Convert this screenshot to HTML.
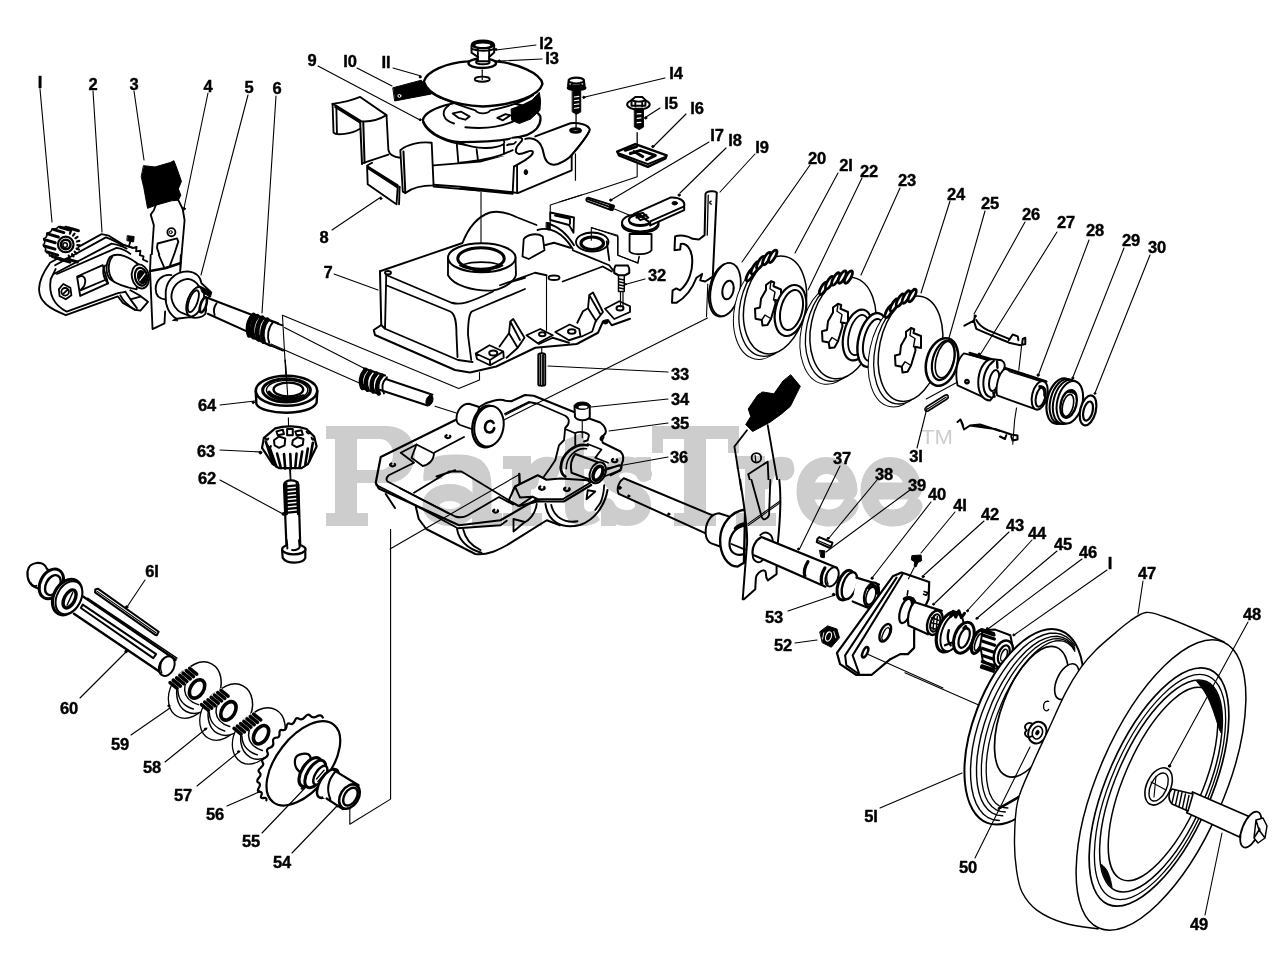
<!DOCTYPE html>
<html><head><meta charset="utf-8"><title>Parts diagram</title>
<style>
html,body{margin:0;padding:0;background:#fff;}
body{width:1280px;height:956px;overflow:hidden;font-family:"Liberation Sans",sans-serif;}
svg{display:block;}
.l{font-family:"Liberation Sans",sans-serif;font-weight:bold;font-size:16.5px;fill:#000;text-anchor:middle;stroke:#000;stroke-width:0.4px;}
.wm{font-family:"Liberation Serif",serif;font-weight:bold;fill:#cfcfcf;}
.ld{stroke:#000;stroke-width:1.1;fill:none;}
.k{fill:#000;stroke:#000;stroke-width:1;}
.w{fill:#fff;}
.t{stroke-width:1;}
.h{stroke-width:2;}
path,ellipse,circle,line,polygon,polyline,rect{vector-effect:non-scaling-stroke;}
</style></head><body>
<svg width="1280" height="956" viewBox="0 0 1280 956" fill="none" stroke="#000" stroke-width="1.85" stroke-linecap="round" stroke-linejoin="round">
<rect x="0" y="0" width="1280" height="956" fill="#fff" stroke="none"/>
<!-- top-left assembly: gear 1, bracket 2 (8x zoom coords of region 30,215) -->
<g id="p1p2" transform="translate(30,215) scale(0.12549)">
 <g>
  <!-- bracket 2 outer silhouette -->
  <path class="w" stroke="none" d="M160 380 L570 152 L628 165 L745 238 L880 310 L945 385 L945 690 L880 762 L835 755 L740 700 L700 648 L285 797 C150 745 72 690 72 590 C72 520 110 450 160 380Z"/>
  <path d="M820 262 L745 238 L628 165 L570 152 L160 380 C110 450 72 520 72 590 C72 690 150 745 285 797 L700 648 L740 700 L835 755 L880 762 L940 692 L872 640 L800 600"/>
  <path d="M200 400 L605 178 C650 195 700 220 745 245"/>
  <path d="M190 470 L650 228 C700 236 740 250 770 268"/>
  <path d="M165 512 L205 430 M165 512 C150 610 175 710 292 770 L700 622 L760 612"/>
  <path d="M215 470 L690 262 C730 268 770 285 800 310"/>
  <!-- slot -->
  <path d="M375 490 L580 400 L622 545 L400 645 Z"/>
  <path d="M402 600 L612 512 M385 495 C425 470 455 505 432 565 L402 600"/>
  <!-- tab lower right -->
  <path d="M760 612 L800 672 L880 650 M800 672 L852 742 M720 640 C740 680 780 720 835 755"/>
  <!-- boss cylinder -->
  <path class="w" d="M640 332 C700 295 790 330 865 395 L850 592 C780 580 700 560 640 512 C600 470 600 385 640 332Z"/>
  <path d="M655 335 C615 385 620 470 660 520 M600 402 C572 432 580 500 622 545"/>
  <ellipse class="w" cx="880" cy="490" rx="68" ry="97" transform="rotate(-12 880 490)"/>
  <ellipse cx="885" cy="492" rx="48" ry="72" transform="rotate(-12 885 492)" stroke-width="2.2"/>
  <ellipse cx="890" cy="495" rx="30" ry="50" transform="rotate(-12 890 495)" fill="#000"/>
  <path d="M875 520 L915 470" stroke="#fff" stroke-width="1.2"/>
  <!-- hex bolt -->
  <path d="M265 550 L322 580 L330 640 L285 672 L235 645 L230 590 Z" stroke-width="1.8"/>
  <circle cx="280" cy="612" r="30"/>
  <path d="M262 630 L300 595"/>
  <!-- pin and teeth on right -->
  <path class="k" d="M778 165 L830 172 L825 215 L775 205Z"/>
  <path d="M800 210 L790 245 M745 238 L820 262 L850 255 L845 290 L880 285 L875 320 L905 330 L900 355 L935 372" stroke-width="1.8"/>
  <!-- gear 1 -->
  <path class="w" d="M230 82 C300 70 370 120 385 210 C390 270 350 320 290 335 L190 345 C130 320 95 270 98 215 C100 150 160 95 230 82Z" stroke="none"/>
 </g>
</g>

<g id="gear1" transform="translate(30,215) scale(0.12549)">
<path d="M301 101L386 126" stroke-width="3"/>
<path d="M241 98L326 123" stroke-width="3"/>
<path d="M185 115L270 140" stroke-width="3"/>
<path d="M141 150L226 175" stroke-width="3"/>
<path d="M116 196L201 221" stroke-width="3"/>
<path d="M114 247L199 272" stroke-width="3"/>
<path d="M136 295L221 320" stroke-width="3"/>
<path d="M178 331L263 356" stroke-width="3"/>
<path d="M233 351L318 376" stroke-width="3"/>
<path d="M293 350L378 375" stroke-width="3"/>
<path d="M341 107Q307 117 287 91Q259 110 229 92Q211 119 176 111Q170 142 134 145Q141 175 109 190Q129 216 105 239Q134 258 121 287Q156 295 156 326Q192 323 205 352Q238 338 262 361Q286 338 319 352" stroke-width="1.6"/>
<path d="M309 324L314 343" stroke-width="2.2"/>
<path d="M335 312L346 329" stroke-width="2.2"/>
<path d="M356 293L372 305" stroke-width="2.2"/>
<path d="M371 268L390 275" stroke-width="2.2"/>
<path d="M377 240L397 241" stroke-width="2.2"/>
<path d="M374 211L393 206" stroke-width="2.2"/>
<path d="M362 185L379 174" stroke-width="2.2"/>
<path d="M343 164L355 148" stroke-width="2.2"/>
<path d="M318 149L325 130" stroke-width="2.2"/>
<circle cx="285" cy="235" r="62" class="w" stroke-width="2.2"/>
<circle cx="285" cy="235" r="38" stroke-width="2.6"/>
<circle cx="280" cy="240" r="18" stroke-width="1.5"/>
</g>
<!-- black block 3 + plate 4 upper (8x zoom of region 130,150) -->
<g id="p3p4" transform="translate(130,150) scale(0.12549)">
 <path class="w" d="M205 440 L190 480 L165 515 L190 600 L165 956 L400 956 L435 560 L420 470 L385 400Z" stroke="none"/>
 <path d="M205 440 L190 480 L165 515 L190 600 L165 956 M385 400 L420 470 L435 560 L400 956"/>
 <path class="k" d="M110 125 L200 135 L320 100 L350 85 L375 150 L410 250 L385 310 L405 360 L385 400 L330 405 L205 440 L140 465 L110 300 L90 215Z"/>
 <circle cx="330" cy="655" r="32"/><circle cx="325" cy="655" r="12" stroke-width="1"/>
 <path d="M220 745 L375 705 L385 730 L320 930 L270 940 L215 780Z"/>
 <circle cx="432" cy="468" r="9" class="k"/>
</g>
<!-- plate 4 lower, hub 5, shaft 6 (8x zoom of region 140,255) -->
<g id="p5p6" transform="translate(140,255) scale(0.12549)">
 <path class="w" stroke="none" d="M85 0 L80 125 L100 590 L195 545 L205 330 L320 130 L325 0Z"/>
 <path d="M85 0 L80 125 L100 590 L195 545 L200 450 M325 0 L320 130"/>
 <path d="M80 128 L200 105 L320 65" stroke-width="2.6"/>
 <path d="M150 0 L195 105 L235 95 L270 0"/>
 <!-- hub -->
 <path class="w" d="M250 160 C180 150 125 200 125 270 C125 320 150 350 205 355"/>
 <path class="w" d="M205 330 C195 220 270 130 380 130 C440 135 480 170 490 225 L560 290 L520 470 C500 495 450 510 400 495 L290 508 C230 470 200 400 205 330Z"/>
 <path d="M250 340 C250 260 300 200 380 190 C420 195 450 215 470 250 M250 340 C260 400 290 440 330 460 L385 482"/>
 <path d="M385 482 C355 420 380 300 470 250"/>
 <ellipse cx="440" cy="372" rx="62" ry="122" transform="rotate(20 440 372)" class="w"/>
 <ellipse cx="425" cy="368" rx="34" ry="92" transform="rotate(20 425 368)"/>
 <path class="k" d="M478 248 L572 295 L562 335 L498 300Z"/>
 <path class="k" d="M262 520 L292 505 L300 522Z"/>
 <!-- shaft -->
 <path class="w" d="M520 335 L900 480 L860 612 L540 468Z" stroke="none"/>
 <path d="M520 335 L900 480 M540 468 L860 612" stroke-width="2"/>
 <ellipse class="w" cx="505" cy="398" rx="22" ry="62" transform="rotate(18 505 398)" stroke-width="2.6"/>
 <path d="M610 385 C590 410 585 445 595 478"/>
 <!-- worm -->
 <path class="w" d="M900 470 L1100 545 L1040 722 L860 640Z" stroke="none"/>
 <g stroke-width="4.6">
  <path d="M905 478 C860 520 850 590 870 640"/>
  <path d="M935 488 C890 535 885 610 905 655"/>
  <path d="M975 500 C930 550 925 625 945 672"/>
  <path d="M1015 515 C975 560 965 640 985 690"/>
 </g>
 <path d="M900 472 L1100 545 M865 640 L1040 722" stroke-width="2.4"/>
 <path d="M1060 535 C1020 580 1010 650 1030 700"/>
 <path d="M1100 548 L1135 560 M1045 722 L1140 762"/>
 <!-- leader box -->
 <path class="ld" d="M1135 480 L1172 1130"/>
</g>

<!-- bracket 8 left/back (8x zoom of region 320,85) -->
<g id="p8a" transform="translate(320,85) scale(0.12549)">
 <path class="w" stroke="none" d="M100 150 L320 95 L530 240 L545 520 L640 580 L640 520 L890 460 L905 640 L1275 610 L1275 840 L905 810 L680 860 L630 950 L600 945 L380 790 L375 645 L335 630 L320 290 L315 350 L108 380Z"/>
 <path d="M100 150 C180 140 260 120 320 95 L530 240 L545 520 C555 565 600 575 640 580"/>
 <path d="M100 150 L108 380 C130 405 250 390 315 350 M130 165 L135 385"/>
 <path d="M100 150 L130 165 L330 290 C400 295 480 270 530 240 M120 175 L320 300" />
 <path d="M320 290 L335 630 M345 300 L355 620" stroke-width="2"/>
 <path d="M335 625 L545 555 M380 640 L415 620"/>
 <path d="M375 645 L620 800 M385 665 L615 815 M375 645 L380 790 L600 945 M620 800 L610 950 M635 810 L630 950"/>
 <path d="M905 640 L1275 610 L1534 540"/>
</g>

<!-- pulleys 9-13 (8x zoom of region 390,30) -->
<g id="pulley" transform="translate(390,30) scale(0.12549)">
 <!-- lower hub -->
 <path class="w" stroke="none" d="M530 880 L545 1062 L930 1000 L908 880Z"/>
 <path d="M530 880 L545 1060 M908 880 L928 1000 M558 900 C700 960 850 945 908 908 M690 950 L700 1030" />
 <!-- lower disc -->
 <path class="w" d="M480 590 C350 620 265 670 262 720 C290 800 400 880 558 893 C758 893 958 878 1088 838 C1158 808 1208 758 1198 688 C1150 600 900 560 740 560 C640 560 550 570 480 590Z" stroke-width="2.2"/>
 <path d="M470 600 C400 650 420 720 510 745 M600 775 C750 790 900 770 1000 720"/>
 <path d="M500 665 L565 650 L635 690 L600 715 L545 700Z M855 700 L920 670 L960 680 L900 720Z"/>
 <path d="M262 735 C300 830 450 900 600 915" />
 <!-- belt right -->
 <path class="k" d="M1190 500 L1200 560 L1195 640 L1120 710 L1030 745 L970 720 L965 630 L1050 600 L1130 560Z"/>
 <!-- upper disc underside cone -->
 <path class="w" d="M330 500 C420 560 560 600 680 640 C700 672 780 672 800 640 C900 620 1050 580 1140 520Z" />
 <path d="M540 575 C650 600 850 600 960 570"/>
 <!-- upper disc -->
 <path class="w" d="M270 410 C290 330 450 260 620 250 C700 240 800 240 860 252 C1000 265 1200 340 1215 430 C1190 520 1000 595 740 610 C500 600 300 520 270 410Z" stroke-width="2.4"/>
 <!-- belt left -->
 <path class="k" d="M25 460 L250 400 L280 440 L330 510 L40 565Z"/>
 <circle cx="75" cy="525" r="12" stroke="#fff" stroke-width="1"/>
 <!-- small hole + axis -->
 <ellipse cx="735" cy="392" rx="60" ry="20"/>
 <path d="M735 320 L735 395" stroke-width="1.2"/>
 <!-- washer 13 -->
 <ellipse class="w" cx="735" cy="265" rx="110" ry="38" stroke-width="2.4"/>
 <ellipse cx="740" cy="255" rx="55" ry="18" />
 <!-- bolt 12 -->
 <path class="w" d="M650 120 L650 180 L700 215 L700 250 L790 250 L790 215 L830 180 L830 120Z" stroke-width="2"/>
 <ellipse cx="740" cy="115" rx="88" ry="32" fill="#000"/>
 <ellipse cx="740" cy="122" rx="60" ry="14" fill="#fff" stroke="none"/>
 <path d="M700 150 L700 215 M790 150 L790 215 M650 150 C700 170 790 170 830 150"/>
 <circle cx="240" cy="375" r="8" class="k"/><circle cx="240" cy="715" r="8" class="k"/>
 <circle cx="845" cy="155" r="8" class="k"/><circle cx="870" cy="245" r="7" class="k"/>
</g>

<!-- bracket 8 centre tab (coords of region 320,85) -->
<g id="p8b" transform="translate(320,85) scale(0.12549)">
 <path class="w" d="M640 520 C700 470 800 450 890 460 L905 800 C800 800 720 830 680 860 L660 850Z"/>
 <path d="M665 530 L680 860" stroke-width="2"/>
 <path d="M905 795 L1275 822 M905 810 L1275 842"/>
 <circle cx="485" cy="905" r="8" class="k"/>
</g>
<!-- bracket 8 right (8x zoom of region 460,100) -->
<g id="p8c" transform="translate(460,100) scale(0.12549)">
 <path class="w" stroke="none" d="M420 300 L600 290 L880 185 C950 180 1020 195 1035 235 C1020 290 960 350 890 450 L890 560 L460 742 L0 705 L0 640 L350 600 L350 350Z"/>
 <path d="M600 290 L880 185 C950 180 1020 195 1035 235 C1020 290 960 350 880 450" stroke-width="2"/>
 <path d="M1030 250 C1000 310 950 370 890 440" />
 <ellipse cx="920" cy="240" rx="40" ry="14" stroke-width="2.4"/>
 <path d="M420 300 C480 290 520 300 480 340 C440 380 430 420 470 430 C520 430 560 390 580 410 C590 440 540 460 520 480 L430 530" stroke-width="2"/>
 <path d="M375 360 C400 340 420 370 445 335 M350 350 L350 430 M0 500 C100 490 250 470 350 430 L420 400"/>
 <path d="M520 310 C600 290 650 340 665 420 C680 500 720 530 780 510 C830 490 870 460 890 440" stroke-width="2"/>
 <path d="M430 530 L420 735 L460 742 L890 560 L890 450 M455 520 L455 740"/>
 <ellipse cx="525" cy="575" rx="14" ry="20" class="k"/>
 <path d="M0 690 L420 735 M0 705 L420 747"/>
 <path d="M920 430 L920 640" stroke-width="1.2"/>
 <!-- bolt 14 lower -->
</g>

<!-- housing 7 (4x coords of region 300,200) -->
<g id="p7" transform="translate(300,200) scale(0.25)">
 <!-- silhouette fill -->
 <path class="w" stroke="none" d="M320 285 L650 172 C670 120 700 70 760 50 C800 40 840 55 870 70 L946 100 L1001 50 L1096 70 L1096 130 L1227 166 L1320 290 L1320 475 L1247 501 L1232 480 L1212 486 L1192 531 L1107 576 L941 591 L785 666 L680 690 L620 680 L300 540 L295 520 L325 500Z"/>
 <!-- left corner + flange -->
 <path d="M320 285 L325 500 L295 520 L300 540 L620 680 L680 690 L785 666 L941 591 L1107 576 L1192 531 L1212 486 L1232 480 L1247 501 L1320 475" stroke-width="2"/>
 <path d="M345 300 L340 515 M325 500 L340 515 L632 640 L690 648" />
 <ellipse cx="352" cy="291" rx="12" ry="7"/>
 <!-- top edges -->
 <path d="M320 285 L650 172 C670 120 700 70 760 50 C800 40 840 55 870 70 L946 100"/>
 <path d="M345 300 L606 411 C641 421 677 411 772 366"/>
 <path d="M345 341 L601 446 C621 456 626 487 626 540 L630 628"/>
 <path d="M900 356 L687 446 C672 461 672 512 672 540 L685 640"/>
 <path d="M900 311 L817 336"/>
 <!-- bearing boss -->
 <path class="ld" d="M724 -30 L724 270"/>
 <path class="w" d="M592 231 L592 301 C612 340 690 366 772 362 C830 350 858 320 864 300 L862 231Z"/>
 <ellipse class="w" cx="727" cy="231" rx="135" ry="58" stroke-width="2"/>
 <ellipse cx="724" cy="234" rx="93" ry="43" stroke-width="3"/>
 <path d="M655 258 C690 245 760 245 795 258 M640 262 C680 285 770 285 810 262" />
 <path d="M695 280 C715 286 740 286 760 280" stroke-width="2.6"/>
 <!-- right-side small boss -->
 <path class="w" d="M890 226 L895 156 C910 136 950 131 971 146 L978 201 L915 236Z"/>
 <path d="M978 181 L1016 171 L1081 191"/>
 <path d="M950 120 C1000 105 1051 130 1091 196 M991 95 C1036 105 1071 141 1096 181"/>
 <path d="M1001 50 L1096 70 L1094 131 L1076 100 L1001 80Z M1020 62 L1080 75 L1080 95"/>
 <path class="k" d="M986 90 L1001 92 L1001 120 L986 118Z"/>
 <path class="ld" d="M1001 20 L1001 95 M1001 20 L1126 -20"/>
 <!-- ring boss -->
 <path class="w" d="M1104 168 L1110 215 L1237 261 L1237 241 L1232 166Z" stroke="none"/>
 <ellipse class="w" cx="1169" cy="168" rx="65" ry="38"/>
 <ellipse cx="1169" cy="173" rx="45" ry="25" stroke-width="3.2"/>
 <path d="M1227 166 L1237 241 M1091 201 L1237 261 L1252 281"/>
 <path class="ld" d="M1166 110 L1272 146 L1272 221 L1352 253 L1357 226"/>
 <!-- front surface -->
 <path d="M800 341 L940 291 L986 301 M1051 326 L1211 266 L1247 286"/>
 <ellipse cx="1016" cy="311" rx="22" ry="9"/>
 <path class="ld" d="M986 301 L986 521"/>
 <!-- tabs and ribs -->
 <path class="w" d="M703 614 L758 581 L813 606 L815 631 L760 661 L708 636Z M703 614 L760 640 L813 606 M760 640 L760 661"/>
 <ellipse cx="773" cy="612" rx="16" ry="10" stroke-width="2"/>
 <path d="M798 586 L836 533 L841 486 L853 476 L898 551 L871 591 L826 631 M841 486 L880 560 M836 533 L870 590"/>
 <path class="w" d="M906 541 L961 516 L1011 541 L951 573Z"/>
 <ellipse cx="969" cy="537" rx="13" ry="8" stroke-width="2"/>
 <path d="M956 576 L1011 551 L1076 571"/>
 <path class="w" d="M1021 528 L1079 498 L1117 516 L1122 546 L1076 561Z"/>
 <ellipse cx="1087" cy="526" rx="15" ry="9" stroke-width="2"/>
 <path d="M1109 491 L1132 445 L1152 433 L1157 380 L1172 370 L1212 448 L1182 486 L1169 526 L1127 546 M1157 380 L1200 455 M1152 433 L1185 485"/>
 <path class="w" d="M1220 435 L1277 405 L1320 425 L1320 448 L1257 476Z"/>
 <ellipse cx="1280" cy="433" rx="14" ry="9" stroke-width="2"/>
 <ellipse cx="1222" cy="488" rx="10" ry="8" class="k"/>
 <!-- pin 33 -->
 <path class="w" d="M953 620 C953 610 981 610 981 620 L981 738 C981 745 953 745 953 738Z M962 615 L962 740 M972 615 L972 740"/>
 <path class="ld" d="M967 590 L967 612"/>
 <!-- bolt 32 -->
 <path class="w" d="M1257 275 L1262 262 L1312 262 L1317 275 L1317 292 L1300 301 L1274 301 L1257 292Z" stroke-width="2"/>
 <path d="M1274 301 L1274 366 L1297 366 L1297 301 M1274 315 L1297 320 M1274 327 L1297 332 M1274 339 L1297 344 M1274 351 L1297 356" stroke-width="1.5"/>
 <path d="M1282 366 L1282 427 M1292 366 L1292 427" stroke-width="1.2"/>
 <circle cx="1303" cy="337" r="3" class="k"/>
</g>

<!-- bolts 14,15 plate 16 (8x coords of region 560,70) -->
<g id="p14_16" transform="translate(560,70) scale(0.12549)">
 <!-- bolt 14 -->
 <path class="w" d="M70 80 C90 55 170 55 190 80 L195 125 L65 125Z" stroke-width="2.2"/>
 <path d="M95 100 L95 125 M165 100 L165 125 M72 95 C100 110 160 110 188 95"/>
 <ellipse cx="132" cy="142" rx="72" ry="18" fill="#000"/>
 <path class="k" d="M100 160 L165 160 L165 335 L132 352 L100 335Z"/>
 <path d="M115 215 L150 210 M115 245 L150 240 M115 275 L150 270 M115 305 L150 300" stroke="#fff" stroke-width="1.2"/>
 <path d="M128 352 L128 470" stroke-width="1.3"/>
 <ellipse cx="125" cy="485" rx="40" ry="14" stroke-width="2.4"/>
 <circle cx="190" cy="218" r="9" class="k"/>
 <!-- bolt 15 -->
 <ellipse class="w" cx="625" cy="275" rx="90" ry="40" stroke-width="2"/>
 <path class="w" d="M570 240 L600 215 L655 215 L682 240 L680 285 L570 285Z" stroke-width="2"/>
 <path d="M600 250 L600 290 M655 250 L655 290 M572 242 C600 255 655 255 680 242"/>
 <path class="k" d="M595 305 L665 305 L665 455 L630 475 L595 455Z"/>
 <path d="M615 350 L645 347 M615 385 L645 382 M615 420 L645 417" stroke="#fff" stroke-width="1.2"/>
 <path d="M615 500 L615 620" stroke-width="1.3"/>
 <circle cx="683" cy="382" r="9" class="k"/>
 <!-- plate 16 -->
 <path class="w" d="M455 650 L600 590 L850 680 L840 705 L700 772 L470 680Z" stroke-width="2.4"/>
 <path d="M470 665 L700 750 L845 690" stroke-width="2"/>
 <path d="M520 640 L610 610 M560 665 L640 640 L760 680 L690 715 M590 650 L660 690" stroke-width="3"/>
 <circle cx="740" cy="610" r="9" class="k"/>
 <path class="ld" d="M615 745 L615 850 L300 956 L0 1050"/>
</g>

<!-- pin 17, lever 18, bracket 19 (8x coords of region 580,180) -->
<g id="p17_19" transform="translate(580,180) scale(0.12549)">
 <!-- pin 17 -->
 <path class="w" d="M65 140 L270 205 L250 240 L55 168 C45 160 50 140 65 140Z"/>
 <path d="M62 152 L260 222" />
 <path class="k" d="M240 200 L275 208 L262 245 L232 235Z"/>
 <path class="ld" d="M275 232 L420 290"/>
 <circle cx="245" cy="160" r="9" class="k"/>
 <!-- dashed box -->
 <path class="ld" d="M90 480 L90 380 L300 440 L300 600 L460 660 L470 610"/>
 <!-- hub of lever -->
 <path class="w" d="M395 430 L395 570 C420 600 540 600 570 560 L570 430Z"/>
 <path class="w" d="M335 340 L335 365 C360 440 600 440 625 365 L625 340Z" stroke-width="2"/>
 <ellipse class="w" cx="480" cy="340" rx="145" ry="70" stroke-width="2"/>
 <ellipse cx="480" cy="318" rx="90" ry="42" stroke-width="2.2"/>
 <path d="M400 345 C440 375 520 375 560 345" stroke-width="2"/>
 <!-- arm -->
 <path class="w" d="M430 270 L720 140 C800 135 840 170 830 210 L830 240 L560 362 L545 330 L500 300Z" stroke-width="2"/>
 <path d="M830 210 L560 330 L560 362"/>
 <path d="M440 275 L500 262 L545 300 L480 320Z M470 270 L520 310 M450 300 L530 280" stroke-width="2"/>
 <ellipse cx="755" cy="185" rx="22" ry="14" class="k"/>
 <circle cx="790" cy="120" r="9" class="k"/>
 <!-- bracket 19 -->
 <path class="w" d="M1000 110 C1010 85 1080 85 1090 100 L1058 770 L998 809 L958 799 L973 749 L928 779 C898 859 838 939 768 979 L733 979 L738 879 L768 864 L798 879 C868 819 903 719 893 619 C888 549 848 499 803 509 L798 554 L753 559 L758 449 C798 434 858 444 898 469 L948 474 L993 439Z" stroke-width="2"/>
 <path d="M1022 120 L1014 440" stroke-width="1.3"/>
 <path d="M1045 168 C1030 170 1030 192 1048 192" stroke-width="1.4"/>
 <path class="ld" d="M1018 830 L1008 1090"/>
</g>

<!-- washer 20, discs 21,23,24, rings (4x coords of region 700,230) -->
<g id="discs" transform="translate(700,230) scale(0.25)">
<ellipse cx="96" cy="240" rx="58" ry="108" transform="rotate(12 96 240)" class="w" stroke-width="1.8"/>
<ellipse cx="102" cy="238" rx="58" ry="108" transform="rotate(12 102 238)" class="w" stroke-width="1.8"/>
<ellipse cx="112" cy="240" rx="22" ry="38" transform="rotate(12 112 240)" stroke-width="2"/>
<ellipse cx="260" cy="322" rx="122" ry="198" transform="rotate(12 260 322)" class="w" stroke-width="1.0"/>
<ellipse cx="282" cy="310" rx="122" ry="198" transform="rotate(12 282 310)" class="w" stroke-width="1.3"/>
<ellipse cx="300" cy="300" rx="122" ry="198" transform="rotate(12 300 300)" class="w" stroke-width="1.5"/>
<ellipse cx="201" cy="179" rx="10" ry="28" transform="rotate(30 201 179)" class="w" stroke-width="2.7"/>
<ellipse cx="221" cy="152" rx="10" ry="28" transform="rotate(30 221 152)" class="w" stroke-width="2.7"/>
<ellipse cx="243" cy="130" rx="10" ry="28" transform="rotate(30 243 130)" class="w" stroke-width="2.7"/>
<ellipse cx="267" cy="114" rx="10" ry="28" transform="rotate(30 267 114)" class="w" stroke-width="2.7"/>
<ellipse cx="291" cy="105" rx="10" ry="28" transform="rotate(30 291 105)" class="w" stroke-width="2.7"/>
<path d="M264 220 L284 205 L297 210 L294 225 L324 238 L324 285 L300 280 L302 295 L284 355 L270 380 L250 382 L247 360 L222 355 L220 315 L240 310 L244 275 L264 240Z" stroke-width="2"/><path d="M284 205 L280 235 L300 248 L294 280 M247 360 L260 340 L284 355" stroke-width="1.4"/>
<ellipse cx="362" cy="322" rx="60" ry="104" transform="rotate(14 362 322)" class="w" stroke-width="2.2"/>
<ellipse cx="366" cy="320" rx="43" ry="82" transform="rotate(14 366 320)" stroke-width="2"/>
<ellipse cx="532" cy="414" rx="128" ry="206" transform="rotate(12 532 414)" class="w" stroke-width="1.0"/>
<ellipse cx="554" cy="402" rx="128" ry="206" transform="rotate(12 554 402)" class="w" stroke-width="1.3"/>
<ellipse cx="572" cy="392" rx="128" ry="206" transform="rotate(12 572 392)" class="w" stroke-width="1.5"/>
<ellipse cx="494" cy="233" rx="10" ry="28" transform="rotate(30 494 233)" class="w" stroke-width="2.7"/>
<ellipse cx="518" cy="211" rx="10" ry="28" transform="rotate(30 518 211)" class="w" stroke-width="2.7"/>
<ellipse cx="543" cy="196" rx="10" ry="28" transform="rotate(30 543 196)" class="w" stroke-width="2.7"/>
<ellipse cx="569" cy="188" rx="10" ry="28" transform="rotate(30 569 188)" class="w" stroke-width="2.7"/>
<ellipse cx="594" cy="188" rx="10" ry="28" transform="rotate(30 594 188)" class="w" stroke-width="2.7"/>
<path d="M532 310 L552 295 L565 300 L562 315 L592 328 L592 375 L568 370 L570 385 L552 445 L538 470 L518 472 L515 450 L490 445 L488 405 L508 400 L512 365 L532 330Z" stroke-width="2"/><path d="M552 295 L548 325 L568 338 L562 370 M515 450 L528 430 L552 445" stroke-width="1.4"/>
<ellipse cx="630" cy="420" rx="55" ry="104" transform="rotate(14 630 420)" class="w" stroke-width="2.2"/>
<ellipse cx="634" cy="420" rx="38" ry="82" transform="rotate(14 634 420)" stroke-width="1.8"/>
<ellipse cx="690" cy="440" rx="56" ry="110" transform="rotate(14 690 440)" class="w" stroke-width="2.4"/>
<ellipse cx="694" cy="440" rx="38" ry="86" transform="rotate(14 694 440)" stroke-width="2"/>
<ellipse cx="802" cy="497" rx="124" ry="214" transform="rotate(12 802 497)" class="w" stroke-width="1.0"/>
<ellipse cx="824" cy="485" rx="124" ry="214" transform="rotate(12 824 485)" class="w" stroke-width="1.3"/>
<ellipse cx="842" cy="475" rx="124" ry="214" transform="rotate(12 842 475)" class="w" stroke-width="1.5"/>
<ellipse cx="756" cy="326" rx="10" ry="28" transform="rotate(30 756 326)" class="w" stroke-width="2.7"/>
<ellipse cx="777" cy="301" rx="10" ry="28" transform="rotate(30 777 301)" class="w" stroke-width="2.7"/>
<ellipse cx="801" cy="281" rx="10" ry="28" transform="rotate(30 801 281)" class="w" stroke-width="2.7"/>
<ellipse cx="825" cy="268" rx="10" ry="28" transform="rotate(30 825 268)" class="w" stroke-width="2.7"/>
<ellipse cx="849" cy="262" rx="10" ry="28" transform="rotate(30 849 262)" class="w" stroke-width="2.7"/>
<path d="M824 407 L844 392 L857 397 L854 412 L884 424 L884 472 L860 467 L862 482 L844 542 L830 567 L810 570 L807 547 L782 542 L780 502 L800 497 L804 462 L824 427Z" stroke-width="2"/><path d="M844 392 L840 422 L860 434 L854 467 M807 547 L820 527 L844 542" stroke-width="1.4"/>
<ellipse cx="968" cy="528" rx="62" ry="97" transform="rotate(15 968 528)" class="w" stroke-width="2.6"/>
<ellipse cx="973" cy="522" rx="42" ry="80" transform="rotate(15 973 522)" stroke-width="2.2"/>
<ellipse cx="980" cy="518" rx="35" ry="75" transform="rotate(15 980 518)" stroke-width="1.6"/>
</g>
<!-- sleeve 27, tube 28, pulley 29, washer 30, clip 26 (8x coords of region 950,300) -->
<g id="p26_30" transform="translate(950,300) scale(0.12549)">
 <!-- sleeve 27 body -->
 <path class="w" d="M110 425 C60 470 35 560 60 680 L300 790 L340 480Z"/>
 <path d="M155 420 L330 470 M160 435 L300 478" stroke-width="2"/>
 <circle cx="135" cy="650" r="14" stroke-width="2"/>
 <!-- flange -->
 <path class="w" d="M330 470 C270 480 225 560 225 660 C225 740 260 800 320 800 L345 770 L430 550 C440 530 440 500 410 480Z" stroke-width="2"/>
 <path d="M350 485 C300 520 262 590 266 680 C270 740 290 770 330 778" stroke-width="2"/>
 <ellipse cx="352" cy="642" rx="38" ry="85" transform="rotate(12 352 642)" stroke-width="2"/>
 <path d="M375 490 L378 540 M345 740 L355 770" stroke-width="2.4"/>
 <!-- tube 28 -->
 <path class="w" d="M440 545 C390 580 360 680 375 760 L680 870 L760 650Z"/>
 <path d="M440 545 L765 650" stroke-width="3"/>
 <path d="M470 570 L740 655" stroke-width="1.2"/>
 <ellipse class="w" cx="715" cy="760" rx="60" ry="116" transform="rotate(14 715 760)" stroke-width="2"/>
 <ellipse cx="722" cy="772" rx="36" ry="80" transform="rotate(14 722 772)" stroke-width="2"/>
 <path d="M715 690 C745 690 760 720 755 760" stroke-width="3"/>
 <!-- pulley 29 -->
 <ellipse class="w" cx="880" cy="805" rx="105" ry="185" transform="rotate(14 880 805)" stroke-width="2.2"/>
 <ellipse class="w" cx="905" cy="808" rx="105" ry="182" transform="rotate(14 905 808)" stroke-width="2"/>
 <ellipse class="w" cx="930" cy="812" rx="105" ry="180" transform="rotate(14 930 812)" stroke-width="2"/>
 <ellipse class="w" cx="955" cy="815" rx="100" ry="172" transform="rotate(14 955 815)" stroke-width="2"/>
 <ellipse cx="945" cy="828" rx="62" ry="112" transform="rotate(14 945 828)" stroke-width="2.4"/>
 <path class="k" d="M925 740 C950 710 990 715 1000 760 C980 735 950 735 925 740Z"/>
 <ellipse cx="940" cy="840" rx="42" ry="90" transform="rotate(14 940 840)" stroke-width="1.6"/>
 <!-- washer 30 -->
 <ellipse class="w" cx="1100" cy="880" rx="62" ry="122" transform="rotate(14 1100 880)" stroke-width="2.2"/>
 <ellipse cx="1100" cy="885" rx="36" ry="78" transform="rotate(14 1100 885)" stroke-width="2.2"/>
 <!-- clip 26 -->
 <path d="M115 205 L190 165 L200 130 M190 165 L210 230 C300 270 400 310 470 340 L560 360 L600 350 L600 300 L580 310 L575 345 M470 320 L500 275 L540 290 L545 320 M210 160 C230 200 260 220 300 240 L470 310" stroke-width="2"/>
 <circle cx="200" cy="128" r="9" class="k"/>
 <path class="ld" d="M570 370 L548 560 M530 860 L515 956 L500 1150"/>
 <circle cx="232" cy="430" r="8" class="k"/><circle cx="702" cy="598" r="9" class="k"/><circle cx="978" cy="622" r="8" class="k"/><circle cx="1155" cy="745" r="7" class="k"/>
</g>
<!-- lower clip + pin 31 (4x coords of region 820,239) -->
<g id="p31" transform="translate(820,239) scale(0.25)">
 <path d="M550 732 L562 722 L576 762 L600 746 L700 760 L765 782 L790 786 L790 802 L770 806 L765 790 M600 746 L640 742 L720 768 M720 790 L740 800 L745 785 M562 722 L572 745" stroke-width="2"/>
 <path class="w" d="M425 672 L500 625 C512 620 518 632 508 640 L432 688 C420 692 415 680 425 672Z" stroke-width="1.6"/>
 <path d="M430 680 L505 632" stroke-width="1.1"/>
 <path class="ld" d="M545 575 L425 640"/>
 <circle cx="588" cy="572" r="7" stroke-width="1.5"/>
</g>

<!-- bearing 64, gear 63 (8x coords of region 220,360) -->
<g id="p63_64" transform="translate(220,360) scale(0.12549)">
 <path class="ld" d="M520 0 L540 290 M545 460 L548 640 M555 870 L560 956"/>
 <path class="w" d="M285 250 L290 350 C330 440 720 450 770 340 L775 250Z" stroke-width="2.4"/>
 <ellipse class="w" cx="530" cy="245" rx="245" ry="120" stroke-width="2.6"/>
 <ellipse cx="530" cy="242" rx="190" ry="92" stroke-width="3"/>
 <ellipse cx="535" cy="240" rx="165" ry="78" stroke-width="1.4"/>
 <ellipse cx="545" cy="235" rx="118" ry="55" stroke-width="2.4"/>
 <path d="M390 260 C420 310 560 330 660 290" stroke-width="4"/>
 <path class="ld" d="M520 0 L540 290"/>
 <circle cx="265" cy="338" r="9" class="k"/>
 <!-- gear 63 -->
 <path class="w" d="M440 545 C520 520 620 525 690 550 L750 610 L770 690 L700 830 L650 862 L470 862 L420 830 L335 700 L350 620Z" stroke-width="2.2"/>
 <g stroke-width="2.6">
  <path d="M365 650 L420 820 M400 710 L450 850 M455 745 L485 860 M510 750 L520 865 M560 750 L565 865 M610 745 L600 860 M655 730 L635 850 M700 705 L680 830 M740 660 L715 800"/>
 </g>
 <path d="M430 640 L470 610 L520 625 L515 680 L470 700 L435 680Z M580 640 L620 615 L665 630 L660 675 L610 695 L575 675Z M450 570 L500 555 L510 590 L460 600Z M600 570 L650 560 L660 595 L610 600Z M535 550 L580 550 L580 600 L535 600Z" stroke-width="2"/>
 <path d="M360 620 C370 640 380 640 385 625 M380 680 C390 700 405 700 405 685 M690 570 C700 590 715 590 715 575 M730 620 C735 640 750 640 750 625" stroke-width="2"/>
 <circle cx="322" cy="738" r="11" class="k"/>
</g>

<!-- bolt 62 (8x coords of region 230,470; scale 120/956) -->
<g id="p62" transform="translate(230,470) scale(0.12552)">
 <path class="ld" d="M482 0 L485 75"/>
 <path class="w" d="M430 120 C430 70 545 70 545 120 L560 610 L450 610Z" stroke-width="2.2"/>
 <path d="M450 130 L530 122 M448 160 L532 152 M450 190 L534 182 M452 220 L536 212 M454 250 L538 242 M456 280 L540 272 M458 310 L542 302 M460 340 L542 332" stroke-width="2.2"/>
 <path d="M445 100 L450 350 M535 100 L545 350" stroke-width="3"/>
 <path class="w" d="M415 640 L420 700 C450 750 580 750 600 700 L600 625Z" stroke-width="2.2"/>
 <ellipse class="w" cx="508" cy="632" rx="93" ry="40" stroke-width="2.2"/>
 <path class="w" d="M452 560 L455 625 C480 645 540 640 555 620 L550 560Z" stroke="none"/>
 <path d="M452 560 L457 625 M550 560 L555 615 M495 638 C520 640 545 632 555 615" stroke-width="2"/>
 <circle cx="425" cy="350" r="11" class="k"/>
</g>

<!-- shaft 60, key 61 (8x coords of region 20,555) -->
<g id="p60_61" transform="translate(20,555) scale(0.12549)">
 <!-- shaft -->
 <path class="w" d="M480 320 L1240 835 L1230 920 L1110 930 L420 465Z" stroke="none"/>
 <path d="M500 328 L1240 835 M430 468 L1110 928" stroke-width="2.4"/>
 <path d="M540 345 L1250 822" stroke-width="1.6"/>
 <path d="M500 395 L1085 790 L1062 822 L485 422Z" stroke-width="2"/>
 <ellipse class="w" cx="1170" cy="885" rx="58" ry="82" transform="rotate(25 1170 885)" stroke-width="2"/>
 <path d="M1150 820 C1120 850 1110 900 1130 940" stroke-width="1.4"/>
 <!-- key 61 -->
 <path class="w" d="M600 275 L620 268 L1105 612 L1090 640 L1075 635 L598 298Z" stroke-width="2"/>
 <path d="M612 288 L1085 622" stroke-width="1.1"/>
 <circle cx="850" cy="415" r="10" class="k"/>
 <circle cx="845" cy="770" r="10" class="k"/>
 <!-- left end -->
 <path class="w" d="M60 130 C70 50 190 40 215 110 L300 200 L210 300 L130 260 C80 240 55 190 60 130Z" stroke-width="2.2"/>
 <path d="M85 225 C95 250 115 255 130 245" stroke-width="2"/>
 <ellipse class="w" cx="250" cy="230" rx="88" ry="125" transform="rotate(28 250 230)" stroke-width="3"/>
 <ellipse class="w" cx="262" cy="240" rx="55" ry="85" transform="rotate(28 262 240)" stroke-width="2.4"/>
 <ellipse class="w" cx="375" cy="335" rx="105" ry="150" transform="rotate(28 375 335)" stroke-width="3.2"/>
 <ellipse class="w" cx="390" cy="340" rx="95" ry="140" transform="rotate(28 390 340)" stroke-width="2"/>
 <ellipse cx="395" cy="350" rx="42" ry="78" transform="rotate(28 395 350)" stroke-width="3.4"/>
 <path d="M375 400 L420 300" stroke-width="1.4"/>
</g>

<!-- gears 57,58,59 (8x coords of region 150,645) -->
<g id="p57_59" transform="translate(150,645) scale(0.12549)">
<ellipse class="w" cx="320" cy="380" rx="160" ry="215" transform="rotate(28 320 380)" stroke-width="1.3"/>
<ellipse class="w" cx="390" cy="340" rx="165" ry="215" transform="rotate(28 390 340)" stroke-width="1.5"/>
<path d="M325 190 C185 280 185 460 345 510" stroke-width="1.5"/>
<path d="M355 220 C245 300 245 430 385 475" stroke-width="1.5"/>
<ellipse cx="375" cy="350" rx="52" ry="80" transform="rotate(32 375 350)" stroke-width="3.6"/>
<path class="w" stroke="none" d="M140 295 L315 165 L385 220 L225 360Z"/>
<path d="M160 300 L216 346" stroke-width="3.6"/>
<path d="M186 281 L242 327" stroke-width="3.6"/>
<path d="M212 262 L268 308" stroke-width="3.6"/>
<path d="M238 243 L294 289" stroke-width="3.6"/>
<path d="M264 224 L320 270" stroke-width="3.6"/>
<path d="M290 205 L346 251" stroke-width="3.6"/>
<path d="M316 186 L372 232" stroke-width="3.6"/>
<ellipse class="w" cx="570" cy="555" rx="160" ry="215" transform="rotate(28 570 555)" stroke-width="1.3"/>
<ellipse class="w" cx="640" cy="515" rx="165" ry="215" transform="rotate(28 640 515)" stroke-width="1.5"/>
<path d="M575 365 C435 455 435 635 595 685" stroke-width="1.5"/>
<path d="M605 395 C495 475 495 605 635 650" stroke-width="1.5"/>
<ellipse cx="625" cy="525" rx="52" ry="80" transform="rotate(32 625 525)" stroke-width="3.6"/>
<path class="w" stroke="none" d="M390 470 L565 340 L635 395 L475 535Z"/>
<path d="M410 475 L466 521" stroke-width="3.6"/>
<path d="M436 456 L492 502" stroke-width="3.6"/>
<path d="M462 437 L518 483" stroke-width="3.6"/>
<path d="M488 418 L544 464" stroke-width="3.6"/>
<path d="M514 399 L570 445" stroke-width="3.6"/>
<path d="M540 380 L596 426" stroke-width="3.6"/>
<path d="M566 361 L622 407" stroke-width="3.6"/>
<ellipse class="w" cx="830" cy="745" rx="160" ry="215" transform="rotate(28 830 745)" stroke-width="1.3"/>
<ellipse class="w" cx="900" cy="705" rx="165" ry="215" transform="rotate(28 900 705)" stroke-width="1.5"/>
<path d="M835 555 C695 645 695 825 855 875" stroke-width="1.5"/>
<path d="M865 585 C755 665 755 795 895 840" stroke-width="1.5"/>
<ellipse cx="885" cy="715" rx="52" ry="80" transform="rotate(32 885 715)" stroke-width="3.6"/>
<path class="w" stroke="none" d="M650 660 L825 530 L895 585 L735 725Z"/>
<path d="M670 665 L726 711" stroke-width="3.6"/>
<path d="M696 646 L752 692" stroke-width="3.6"/>
<path d="M722 627 L778 673" stroke-width="3.6"/>
<path d="M748 608 L804 654" stroke-width="3.6"/>
<path d="M774 589 L830 635" stroke-width="3.6"/>
<path d="M800 570 L856 616" stroke-width="3.6"/>
<path d="M826 551 L882 597" stroke-width="3.6"/>
<circle cx="150" cy="485" r="8" class="k"/><circle cx="440" cy="670" r="8" class="k"/><circle cx="705" cy="850" r="8" class="k"/>
</g>
<!-- gear 56, hub 55, sleeve 54 (8x coords of region 240,705) -->
<g id="p54_56" transform="translate(240,705) scale(0.12549)">
<path class="ld" d="M1200 -1400 L1200 750 L875 950 L875 800"/>
<path class="w" d="M660 100 Q645 70 610 92 Q581 108 560 85 Q540 63 515 98 Q493 124 470 110 Q449 92 435 130 Q422 159 400 150 Q375 136 370 175 Q364 205 340 200 Q312 192 315 230 Q316 260 290 260 Q256 262 265 300 Q270 330 240 340 Q204 349 220 380 Q229 405 200 420 Q163 437 182 460 Q194 479 165 500 Q134 524 158 540 Q173 555 150 580 Q124 610 150 620 Q168 631 150 660 Q131 689 160 690 Q181 694 170 720 Q158 748 190 740 Q215 736 210 760 L500 470Z" stroke="none"/>
<path d="M660 100 Q645 70 610 92 Q581 108 560 85 Q540 63 515 98 Q493 124 470 110 Q449 92 435 130 Q422 159 400 150 Q375 136 370 175 Q364 205 340 200 Q312 192 315 230 Q316 260 290 260 Q256 262 265 300 Q270 330 240 340 Q204 349 220 380 Q229 405 200 420 Q163 437 182 460 Q194 479 165 500 Q134 524 158 540 Q173 555 150 580 Q124 610 150 620 Q168 631 150 660 Q131 689 160 690 Q181 694 170 720 Q158 748 190 740 Q215 736 210 760" stroke-width="2.2"/>
<ellipse class="w" cx="505" cy="465" rx="212" ry="392" transform="rotate(38 505 465)" stroke-width="2.2"/>
<path class="w" d="M440 430 C450 390 540 370 560 410 L570 500 L500 545 C450 530 430 480 440 430Z" stroke-width="2.2"/>
<ellipse class="w" cx="560" cy="535" rx="68" ry="130" transform="rotate(32 560 535)" stroke-width="3.2"/>
<ellipse class="w" cx="600" cy="550" rx="62" ry="122" transform="rotate(32 600 550)" stroke-width="3"/>
<ellipse class="w" cx="640" cy="560" rx="40" ry="85" transform="rotate(32 640 560)" stroke-width="2.4"/>
<path d="M610 590 L670 520 M620 610 L680 540" stroke-width="1.3"/>
<ellipse class="w" cx="700" cy="625" rx="62" ry="130" transform="rotate(32 700 625)" stroke-width="2.6"/>
<path class="w" d="M740 515 L945 640 L830 830 L660 735Z" stroke="none"/>
<path d="M740 515 L945 640 M690 745 L820 830" stroke-width="2.2"/>
<path d="M760 530 C700 600 690 680 720 750" stroke-width="2"/>
<ellipse class="w" cx="872" cy="730" rx="72" ry="105" transform="rotate(32 872 730)" stroke-width="2.6"/>
<ellipse cx="880" cy="730" rx="48" ry="78" transform="rotate(32 880 730)" stroke-width="2.4"/>
<circle cx="150" cy="690" r="8" class="k"/><circle cx="495" cy="665" r="8" class="k"/><circle cx="775" cy="805" r="8" class="k"/>
</g>
<!-- lower gearbox 34-36, bushing, shaft stub (4x coords of region 320,380) -->
<g id="gearbox" transform="translate(320,380) scale(0.25)">
 <!-- phantom shaft lines from part 6 -->
 <path class="ld" d="M-150 -259 L555 34 L638 0 L638 -30 M-142 -210 L180 -45 M-196 -144 L180 22"/>
<g transform="translate(-2,-16)">
 <!-- second shaft piece: worm + stub -->
 <path class="w" d="M265 12 L452 75 L432 118 L240 55Z" stroke="none"/>
 <path d="M265 12 L452 75 M240 55 L432 118" stroke-width="2"/>
 <ellipse cx="440" cy="98" rx="13" ry="22" transform="rotate(20 440 98)" class="k"/>
 <g stroke-width="4.4"><path d="M185 -25 C165 -5 160 25 172 48 M205 -18 C185 2 180 32 192 55 M228 -10 C208 10 203 40 215 62 M250 -2 C230 18 225 48 237 70"/></g>
 <path d="M178 -30 L262 -2 M168 48 L240 72" stroke-width="2.2"/>
 <path d="M270 5 C250 25 248 50 258 70" />
</g>
 <path class="ld" d="M460 105 L545 132"/>
 <!-- centre line from bracket 19 to bushing, arrow leader -->
  <!-- silhouette -->
 <path class="w" stroke="none" d="M243 308 L546 158 L642 105 L742 83 L820 60 L855 63 L1016 128 L1121 170 L1142 213 L1131 251 L1202 286 L1207 336 L1150 440 C1140 500 1100 560 1040 580 L907 561 L747 661 C711 681 671 701 621 696 L425 596 L383 506 L235 434 L223 411Z"/>
 <!-- top plate -->
 <path d="M546 158 L243 308 L223 411 L235 434 L556 581 L722 561 L862 480 L960 470" stroke-width="2.2"/>
 <path d="M225 420 L320 468 L551 593 L722 581 L747 563" />
 <path d="M576 228 L456 291 C456 320 436 340 411 344 L366 311 L386 258 L323 291 L376 331 L275 381 C265 390 265 400 270 406 L511 532" />
 <path d="M386 258 L451 291 M376 451 L516 366 L566 366 L757 482 L777 431 L802 421 M466 386 L541 361"/>
 <path d="M320 433 L541 546 C560 552 575 550 591 541 L716 468 L772 498 L871 440"/>
 <path d="M285 334 a10 6 0 1 0 14 2 M506 221 a10 6 0 1 0 14 2 M697 519 a10 6 0 1 0 14 2" stroke-width="2.2"/>
<path class="ld" d="M1550 -248 L680 188 M280 676 L797 378"/>
 <path d="M797 376 L802 487" stroke-width="2.4"/>
 <path class="k" d="M790 455 L814 452 L803 492Z"/>
 <!-- lower body -->
 <path d="M263 456 L300 512 M383 506 L395 556 L425 596 L621 696 C671 701 711 681 747 661 L907 561 L960 581" stroke-width="2"/>
 <path d="M548 596 C556 640 590 675 646 691 M573 598 C582 640 610 665 642 680"/>
 <path d="M867 496 C862 530 845 555 817 571 M774 556 L819 568 L774 606Z"/>
 <path d="M902 496 C910 560 960 600 1040 580 C1100 560 1140 500 1150 440" stroke-width="2"/>
 <path d="M925 500 C935 545 975 575 1030 565"/>
 <!-- back edge -->
 <path d="M642 105 C680 80 720 75 742 83 L765 85 L820 60 L855 63 L1016 128" stroke-width="2"/>
 <path d="M740 135 L835 88 L871 95 L981 143 C1000 155 1000 175 981 191 L976 241 L956 261 L941 321 L921 351 L896 386"/>
 <path class="ld" d="M742 140 L840 90"/>
 <!-- bushing -->
 <path class="w" d="M637 108 L596 95 C566 95 546 125 546 155 C546 168 551 176 561 180 L612 198Z"/>
 <ellipse class="w" cx="668" cy="186" rx="58" ry="84" transform="rotate(10 668 186)" stroke-width="2.4"/>
 <ellipse class="w" cx="676" cy="185" rx="58" ry="82" transform="rotate(10 676 185)" stroke-width="2"/>
 <path d="M694 172 C688 160 670 160 662 178 C656 196 664 212 680 210 C690 208 696 200 697 192" stroke-width="2.6"/>
 <!-- plug 34 -->
 <path class="w" d="M1018 103 L1020 148 C1030 165 1070 165 1079 148 L1079 103Z" stroke-width="2"/>
 <ellipse cx="1049" cy="103" rx="31" ry="15" class="k"/>
 <ellipse cx="1052" cy="108" rx="18" ry="6" fill="#fff" stroke="none"/>
 <path class="ld" d="M1049 163 L1049 231"/>
 <!-- right outline -->
 <path d="M1079 155 L1121 170 C1140 185 1146 200 1142 213 L1126 231 L1131 251 L1202 286 C1215 300 1215 320 1207 336 L1202 361 L1162 381" stroke-width="2"/>
 <ellipse cx="1128" cy="232" rx="5" ry="9" transform="rotate(30 1128 232)"/>
 <path d="M981 196 L1021 213 C1030 205 1066 205 1076 221 L1071 241 L1056 246 M1021 213 L1021 261"/>
 <!-- ring + bushing 36 -->
 <path d="M1071 261 C1020 250 965 295 963 351 C964 370 970 380 981 386" stroke-width="2.8"/>
 <path d="M1066 275 C1025 270 985 305 985 355" stroke-width="1.6"/>
 <path d="M1071 256 L1126 278 L1101 311 L1152 331"/>
 <path d="M1172 316 a11 7 0 1 0 16 2" stroke-width="2.2"/>
 <path class="w" d="M1021 296 L1116 331 L1081 399 L1006 371 C1000 340 1005 315 1021 296Z" stroke-width="2"/>
 <ellipse class="w" cx="1111" cy="371" rx="30" ry="44" transform="rotate(25 1111 371)" stroke-width="2"/>
 <ellipse cx="1112" cy="373" rx="17" ry="30" transform="rotate(25 1112 373)" stroke-width="3.6"/>
 <path d="M1137 361 L1197 341 C1212 342 1208 360 1192 364 L1137 386"/>
 <!-- front plate -->
 <path class="w" d="M871 381 L780 426 L755 482 L795 504 L850 467 L871 477 L971 477 L1081 411 L1071 401 L961 394 L906 399Z" stroke-width="2"/>
 <path d="M795 504 L871 486 L975 486 L1085 420" stroke-width="2.2"/>
 <path d="M881 426 a11 7 0 1 0 16 2 M981 431 a11 7 0 1 0 16 2" stroke-width="2.4"/>
 <path d="M780 426 L800 470 L850 467"/>
 <path d="M1071 441 L1101 446 L1066 477Z M1137 421 C1135 450 1130 475 1121 492 L1101 520"/>
 <!-- shaft right start -->
 <circle cx="1049" cy="103" r="0"/>
</g>

<!-- second plate with black grip (8x coords of region 720,370) -->
<g id="plateB" transform="translate(720,370) scale(0.12549)">
 <path class="w" stroke="none" d="M215 480 L115 610 L170 956 L470 956 L380 440Z"/>
 <path d="M215 480 L115 610 L170 956 M380 440 L470 956"/>
 <path class="k" d="M565 40 L640 130 L560 290 L490 350 L400 415 L260 490 L205 435 L245 370 L225 310 L300 200 L340 175 L430 190 L500 90Z"/>
 <circle cx="290" cy="700" r="38"/>
 <path d="M280 680 L285 730" stroke-width="1.2"/>
 <path d="M380 730 L225 830 L260 956 M380 730 L390 956"/>
</g>
<!-- shaft 37, hub, plate lower, key 38, pin 39 (8x coords of region 690,480) -->
<g id="p37" transform="translate(690,480) scale(0.12549)">
 <!-- shaft left long part (extends up-left beyond region) -->
 <path class="w" d="M-528 -14 C-565 10 -590 70 -568 110 L125 425 L175 280Z" stroke="none"/>
 <path d="M-528 -14 L175 280 M-568 110 L125 425 M-528 -14 C-565 10 -590 70 -568 110" stroke-width="2"/>
 <circle cx="-560" cy="62" r="12" class="k"/><circle cx="-488" cy="128" r="9" class="k"/><circle cx="-169" cy="272" r="9" class="k"/>
 <!-- hub -->
 <path class="w" d="M340 300 L230 265 C160 270 120 350 125 430 C128 470 150 500 170 505 L240 530Z" stroke-width="2"/>
 <path class="w" d="M440 235 C330 250 245 350 240 470 C238 600 300 690 380 690 L430 660Z" stroke-width="2.4"/>
 <path d="M440 365 C370 365 310 440 315 520 C320 580 370 610 430 590" stroke-width="2.2"/>
 <path d="M365 385 C390 360 420 350 450 352" stroke-width="4"/>
 <path d="M330 510 L440 555"/>
 <!-- plate -->
 <path class="w" stroke="none" d="M400 0 C420 150 460 350 455 500 L420 950 L430 950 L520 870 L525 780 C530 750 560 720 590 720 C620 730 590 760 620 800 L690 750 L690 680 L700 500 C720 300 730 150 712 0Z"/>
 <path d="M400 0 C420 150 460 350 455 500 L420 950 L430 950 L520 870 L525 780 C530 750 560 720 590 720 C620 730 590 760 620 800 L690 750 L690 680 L700 500 C720 300 730 150 712 0" stroke-width="2"/>
 <path d="M490 0 L570 290 C580 330 620 310 630 280 L640 0" />
 <path d="M460 350 L720 165 M465 362 L722 178" stroke-width="1.1"/>
 <!-- shaft right -->
 <path d="M560 440 C600 400 650 420 660 480 M500 600 C500 650 560 680 580 630" />
 <path class="w" d="M570 455 L1170 700 L1185 780 L1130 850 L1080 850 L500 595 C490 540 520 480 570 455Z" stroke="none"/>
 <path d="M570 455 L1170 700 M500 595 L1080 850 M570 455 C520 480 490 540 500 595" stroke-width="2.2"/>
 <path d="M940 650 C915 690 905 730 915 765 M1075 700 C1050 740 1040 790 1050 830" stroke-width="3.2"/>
 <ellipse class="w" cx="1132" cy="772" rx="48" ry="80" transform="rotate(22 1132 772)" stroke-width="2"/>
 <path d="M1105 720 C1085 750 1085 800 1100 830" stroke-width="1.3"/>
 <!-- key 38, pin 39 -->
 <path class="w" d="M1015 470 L1030 455 L1135 500 L1125 530 L1110 540 L1010 495Z" stroke-width="2"/>
 <path d="M1018 482 L1118 525" stroke-width="1.2"/>
 <path class="k" d="M1035 560 L1075 565 L1070 620 L1045 615Z"/>
 <circle cx="865" cy="550" r="8" class="k"/><circle cx="1100" cy="465" r="8" class="k"/>
</g>

<!-- spacer 40, bracket 41, pinion 42, nut 52 (8x coords of region 815,555) -->
<g id="p40_42" transform="translate(815,555) scale(0.12549)">
 <!-- spacer 40 -->
 <ellipse class="w" cx="245" cy="240" rx="62" ry="122" transform="rotate(18 245 240)" stroke-width="3"/>
 <ellipse class="w" cx="275" cy="245" rx="55" ry="112" transform="rotate(18 275 245)" stroke-width="2.4"/>
 <path class="w" d="M330 180 L510 235 L420 420 L300 370Z" stroke="none"/>
 <path d="M330 180 L510 235 M300 370 L420 420" stroke-width="2.2"/>
 <ellipse class="w" cx="450" cy="315" rx="55" ry="98" transform="rotate(18 450 315)" stroke-width="2.2"/>
 <path d="M430 260 C460 230 500 250 495 300" stroke-width="4"/>
 <ellipse cx="445" cy="325" rx="35" ry="72" transform="rotate(18 445 325)" stroke-width="1.6"/>
 <circle cx="148" cy="315" r="10" class="k"/><circle cx="455" cy="185" r="9" class="k"/>
 <!-- bracket 41 -->
 <path class="w" d="M690 140 L620 170 L175 780 L200 870 L330 956 L450 956 L600 830 L680 790 L740 790 L790 740 L790 600 L905 350 L910 215Z" stroke-width="2.2"/>
 <path d="M650 180 L240 800 L250 880 L360 956 M700 150 L300 800 L350 940" stroke-width="2"/>
 <path d="M740 285 L735 320 M870 290 L900 300 L885 320 L865 312" stroke-width="1.6"/>
 <ellipse cx="560" cy="620" rx="38" ry="75" transform="rotate(25 560 620)" stroke-width="2.4"/>
 <ellipse cx="565" cy="630" rx="22" ry="55" transform="rotate(25 565 630)" stroke-width="1.3"/>
 <ellipse cx="400" cy="775" rx="18" ry="45" transform="rotate(25 400 775)" stroke-width="2.4"/>
 <path class="ld" d="M420 790 L1020 1060"/>
 <circle cx="862" cy="172" r="9" class="k"/>
 <!-- zerk -->
 <path class="k" d="M775 5 L845 0 L850 45 L820 60 L805 95 L790 90 L795 55 L770 40Z"/>
 <path class="ld" d="M790 100 L745 190"/>
 <!-- pinion shaft 42 -->
 <ellipse class="w" cx="722" cy="445" rx="42" ry="102" transform="rotate(18 722 445)" stroke-width="2.2"/>
 <path d="M715 350 C745 335 780 345 790 370" stroke-width="4"/>
 <path class="w" d="M790 375 L1010 445 L900 632 L745 562 C730 500 750 420 790 375Z" stroke-width="2.2"/>
 <ellipse class="w" cx="955" cy="540" rx="58" ry="100" transform="rotate(18 955 540)" stroke-width="2.4"/>
 <ellipse cx="958" cy="542" rx="36" ry="72" transform="rotate(18 958 542)" stroke-width="2"/>
 <path d="M930 500 L985 520 M925 540 L990 555 M925 580 L975 595 M950 480 L940 600 M975 490 L965 605" stroke-width="1.4"/>
 <circle cx="945" cy="392" r="8" class="k"/>
 <!-- nut 52 -->
 <path class="k" d="M40 610 L100 565 L175 590 L195 660 L130 735 L60 700Z"/>
 <ellipse cx="108" cy="650" rx="22" ry="38" transform="rotate(20 108 650)" stroke="#fff" stroke-width="1.1"/>
 <path d="M150 610 L165 660 M70 620 L60 670" stroke="#fff" stroke-width="0.9"/>
</g>

<!-- star washer 44, rings 45/46, gear 1b (8x coords of region 930,580) -->
<g id="p44_46" transform="translate(930,580) scale(0.12549)">
<ellipse cx="150" cy="415" rx="88" ry="165" transform="rotate(20 150 415)" class="w" stroke-width="3.2"/>
<ellipse cx="175" cy="420" rx="80" ry="155" transform="rotate(20 175 420)" class="w" stroke-width="2"/>
<path d="M165 290 L185 250 L205 295 L230 245 L250 300 L275 265" stroke-width="3"/>
<path d="M150 400 C135 450 140 500 165 520 M120 520 L170 500" stroke-width="2.4"/>
<ellipse cx="270" cy="460" rx="75" ry="128" transform="rotate(20 270 460)" class="w" stroke-width="3"/>
<ellipse cx="272" cy="462" rx="38" ry="82" transform="rotate(20 272 462)" stroke-width="2.2"/>
<path d="M265 385 L285 365 L300 392" stroke-width="2"/>
<ellipse cx="380" cy="492" rx="40" ry="97" transform="rotate(20 380 492)" class="w" stroke-width="3.2"/>
<ellipse cx="385" cy="495" rx="22" ry="70" transform="rotate(20 385 495)" stroke-width="1.6"/>
<path class="w" d="M420 400 L520 395 L640 440 L665 560 L600 690 L520 705 L420 640 L400 520Z" stroke-width="2"/>
<path d="M412 395 L507 427" stroke-width="3.2"/>
<path d="M415 406 L510 438" stroke-width="3.2"/>
<path d="M418 439 L513 471" stroke-width="3.2"/>
<path d="M420 488 L515 520" stroke-width="3.2"/>
<path d="M420 545 L515 577" stroke-width="3.2"/>
<path d="M419 602 L514 634" stroke-width="3.2"/>
<path d="M417 651 L512 683" stroke-width="3.2"/>
<path d="M414 684 L509 716" stroke-width="3.2"/>
<path d="M410 695 L505 727" stroke-width="3.2"/>
<ellipse cx="585" cy="590" rx="72" ry="112" transform="rotate(20 585 590)" class="w" stroke-width="2.4"/>
<ellipse cx="588" cy="595" rx="42" ry="78" transform="rotate(20 588 595)" stroke-width="2.2"/>
<ellipse cx="590" cy="600" rx="22" ry="50" transform="rotate(20 590 600)" stroke-width="1.4"/>
<circle cx="300" cy="245" r="8" class="k"/><circle cx="375" cy="305" r="8" class="k"/><circle cx="457" cy="387" r="8" class="k"/><circle cx="668" cy="438" r="8" class="k"/>
</g>
<!-- wheel 51 (abs coords) -->
<g id="wheel51">
<path class="ld" d="M904.9 672.8 L982.7 706.7"/>
<ellipse cx="1024.1" cy="726.8" rx="50.2" ry="102.9" transform="rotate(21 1024.1 726.8)" class="w" stroke-width="2"/>
<path d="M999.3 820.5 L993.5 819.8 L988.2 817.7 L983.5 814.2 L979.5 809.4 L976.1 803.3 L973.5 796.2 L971.7 788.0 L970.7 778.8 L970.5 768.9 L971.2 758.4 L972.6 747.4 L974.9 736.1 L978.0 724.7 L981.8 713.3 L986.3 702.1 L991.3 691.2 L996.9 680.9 L1003.0 671.3 L1009.3 662.5 L1016.0 654.7 L1022.8 647.9 L1029.6 642.3 L1036.5 638.0 L1043.1 635.0 L1049.5 633.3 L1055.6 633.1 L1061.3 634.3 L1066.4 636.8 L1070.9 640.7 L1074.8 645.8" stroke-width="1.4"/>
<path d="M1002.7 815.8 L997.3 815.1 L992.5 813.2 L988.1 809.9 L984.4 805.3 L981.3 799.6 L979.0 792.8 L977.4 785.0 L976.6 776.3 L976.5 766.9 L977.2 756.8 L978.8 746.3 L981.0 735.5 L984.0 724.6 L987.7 713.7 L991.9 702.9 L996.8 692.5 L1002.1 682.6 L1007.8 673.4 L1013.8 664.9 L1020.1 657.4 L1026.5 650.8 L1032.9 645.4 L1039.3 641.2 L1045.5 638.3 L1051.5 636.6 L1057.1 636.3 L1062.4 637.4 L1067.1 639.7 L1071.3 643.4 L1074.8 648.2" stroke-width="1.4"/>
<path d="M1005.3 812.0 L1000.3 811.4 L995.8 809.6 L991.8 806.5 L988.3 802.2 L985.5 796.7 L983.4 790.2 L982.0 782.7 L981.4 774.3 L981.4 765.3 L982.2 755.6 L983.8 745.4 L986.0 735.0 L989.0 724.4 L992.5 713.9 L996.6 703.5 L1001.3 693.4 L1006.4 683.8 L1011.8 674.8 L1017.6 666.6 L1023.5 659.3 L1029.6 652.9 L1035.7 647.6 L1041.7 643.5 L1047.5 640.6 L1053.1 638.9 L1058.4 638.6 L1063.3 639.5 L1067.7 641.7 L1071.6 645.2 L1074.8 649.8" stroke-width="1.3"/>
<path d="M1007.9 808.0 L1003.3 807.5 L999.1 805.8 L995.4 802.9 L992.3 798.8 L989.7 793.6 L987.9 787.3 L986.7 780.1 L986.2 772.1 L986.3 763.4 L987.2 754.1 L988.8 744.3 L991.1 734.3 L993.9 724.1 L997.4 713.9 L1001.4 703.8 L1005.8 694.1 L1010.7 684.8 L1015.9 676.1 L1021.3 668.1 L1027.0 661.0 L1032.7 654.8 L1038.4 649.6 L1044.1 645.5 L1049.6 642.7 L1054.8 641.0 L1059.7 640.6 L1064.3 641.4 L1068.3 643.5 L1071.9 646.7 L1074.8 651.2" stroke-width="1.3"/>
<ellipse cx="1031.6" cy="711.7" rx="29.6" ry="69.0" transform="rotate(21 1031.6 711.7)" stroke-width="1.7"/>
<ellipse cx="1066.8" cy="681.6" rx="10.0" ry="19.1" transform="rotate(25 1066.8 681.6)" class="w" stroke-width="1.6"/>
<path d="M1048.7 701.4 c-4 -1 -6 3 -5 7 c1 3 4 3 5 1" stroke-width="1.3"/>
<ellipse cx="1037.4" cy="732.6" rx="9.0" ry="11.0" transform="rotate(20 1037.4 732.6)" stroke-width="2"/>
<ellipse cx="1037.4" cy="732.6" rx="5.0" ry="6.5" transform="rotate(20 1037.4 732.6)" stroke-width="1.6"/>
<ellipse cx="1037.4" cy="732.6" rx="1.5" ry="2.5" transform="rotate(20 1037.4 732.6)" class="k"/>
<path d="M1031.9 723.3 c-6 -2 -9 4 -5 7 c-4 3 -1 9 5 6" stroke-width="1.8"/>
<path d="M999.0 808.4 L1022.9 794.6" stroke-width="2.6"/>
</g>
<!-- wheel 47, washer 48, bolt 49 (abs coords) -->
<g id="wheel47">
<path class="w" stroke="none" d="M1224.0 642.0 C1219.2 639.8 1204.8 633.2 1195.0 629.0 C1185.2 624.8 1173.2 619.8 1165.0 617.0 C1156.8 614.2 1151.8 611.8 1146.0 612.5 C1140.2 613.2 1135.0 617.6 1130.0 621.0 C1125.0 624.4 1121.4 627.7 1115.7 632.6 C1110.0 637.5 1101.6 644.3 1095.7 650.2 C1089.8 656.1 1085.6 660.7 1080.6 667.8 C1075.6 674.9 1070.9 682.4 1065.5 692.9 C1060.1 703.4 1053.4 718.9 1048.0 730.6 C1042.6 742.3 1037.9 751.5 1032.9 763.2 C1027.9 774.9 1020.9 788.1 1017.8 800.9 C1014.7 813.7 1014.7 828.5 1014.5 840.0 C1014.3 851.5 1015.2 861.3 1016.5 870.0 C1017.8 878.7 1018.6 885.3 1022.0 892.0 C1025.4 898.7 1029.8 904.9 1036.8 910.1 C1043.8 915.3 1053.8 919.9 1064.0 923.0 C1074.2 926.1 1092.3 928.0 1098.0 929.0 L1161 785Z"/>
<path d="M1224.0 642.0 C1219.2 639.8 1204.8 633.2 1195.0 629.0 C1185.2 624.8 1173.2 619.8 1165.0 617.0 C1156.8 614.2 1151.8 611.8 1146.0 612.5 C1140.2 613.2 1135.0 617.6 1130.0 621.0 C1125.0 624.4 1121.4 627.7 1115.7 632.6 C1110.0 637.5 1101.6 644.3 1095.7 650.2 C1089.8 656.1 1085.6 660.7 1080.6 667.8 C1075.6 674.9 1070.9 682.4 1065.5 692.9 C1060.1 703.4 1053.4 718.9 1048.0 730.6 C1042.6 742.3 1037.9 751.5 1032.9 763.2 C1027.9 774.9 1020.9 788.1 1017.8 800.9 C1014.7 813.7 1014.7 828.5 1014.5 840.0 C1014.3 851.5 1015.2 861.3 1016.5 870.0 C1017.8 878.7 1018.6 885.3 1022.0 892.0 C1025.4 898.7 1029.8 904.9 1036.8 910.1 C1043.8 915.3 1053.8 919.9 1064.0 923.0 C1074.2 926.1 1092.3 928.0 1098.0 929.0" stroke-width="1.4"/>
<ellipse cx="1161.0" cy="785.0" rx="63.0" ry="156.0" transform="rotate(23.5 1161.0 785.0)" class="w" stroke-width="1.5"/>
<ellipse cx="1159.0" cy="787.0" rx="52.0" ry="128.0" transform="rotate(23.5 1159.0 787.0)" stroke-width="1.7"/>
<ellipse cx="1160.0" cy="787.0" rx="48.5" ry="121.0" transform="rotate(23.5 1160.0 787.0)" stroke-width="1.3"/>
<ellipse cx="1161.0" cy="786.0" rx="45.0" ry="114.0" transform="rotate(23.5 1161.0 786.0)" stroke-width="1.5"/>
<ellipse cx="1163.0" cy="784.0" rx="39.0" ry="104.0" transform="rotate(23.5 1163.0 784.0)" stroke-width="1.5"/>
<path class="k" d="M1196.6 680.9 L1199.2 680.9 L1201.7 681.1 L1204.1 681.7 L1206.3 682.5 L1208.5 683.6 L1210.5 685.1 L1212.3 686.8 L1214.0 688.9 L1215.5 691.2 L1216.9 693.8 L1218.1 696.7 L1219.1 699.8 L1220.0 703.2 L1220.7 706.8 L1221.2 710.6 L1221.6 714.7 L1221.8 719.0 L1221.8 723.5 L1221.6 728.2 L1221.2 733.0 L1221.2 733.0 L1219.6 730.0 L1218.5 726.9 L1217.5 723.7 L1216.5 720.7 L1215.6 717.8 L1214.6 714.9 L1213.7 712.1 L1212.7 709.3 L1211.7 706.7 L1210.7 704.1 L1209.6 701.5 L1208.5 699.0 L1207.3 696.6 L1206.0 694.2 L1204.6 691.9 L1203.2 689.7 L1201.7 687.5 L1200.0 685.5 L1198.3 683.4 L1196.6 680.9Z" stroke-width="0.8"/>
<path class="k" d="M1111.9 887.2 L1111.1 886.5 L1110.3 885.8 L1109.6 885.0 L1108.9 884.2 L1108.2 883.3 L1107.5 882.4 L1106.9 881.4 L1106.3 880.4 L1105.7 879.3 L1105.1 878.2 L1104.6 877.0 L1104.1 875.8 L1103.6 874.6 L1103.2 873.2 L1102.8 871.9 L1102.4 870.5 L1102.0 869.1 L1101.7 867.6 L1101.4 866.0 L1101.2 864.5 L1101.2 864.5 L1102.2 865.0 L1103.1 865.7 L1103.9 866.5 L1104.6 867.3 L1105.3 868.1 L1106.0 869.0 L1106.6 870.0 L1107.2 870.9 L1107.7 872.0 L1108.2 873.1 L1108.7 874.2 L1109.1 875.4 L1109.6 876.7 L1110.0 878.0 L1110.3 879.3 L1110.7 880.7 L1111.1 882.2 L1111.4 883.7 L1111.7 885.3 L1111.9 887.2Z" stroke-width="0.8"/>
<ellipse cx="1158.6" cy="786.4" rx="12.0" ry="19.8" transform="rotate(25 1158.6 786.4)" class="w" stroke-width="1.6"/>
<ellipse cx="1158.6" cy="787.0" rx="8.0" ry="15.0" transform="rotate(25 1158.6 787.0)" stroke-width="1.4"/>
<path d="M1151 782 L1166 790 M1156 776 L1154 797" stroke-width="1.1"/>
<path class="w" d="M1192.5 792 L1249 816.5 L1239.5 837 L1186.8 812.7Z" stroke-width="1.8"/>
<path class="w" d="M1172 789 C1168 793 1168 800 1172 804 L1188 811 L1193 794Z" stroke-width="1.6"/>
<path d="M1175 790 L1172 803 M1178.500 791 L1175.500 805 M1182 792.500 L1179 806.500 M1185.500 794 L1182.500 808 M1189 795.500 L1186 809.500" stroke-width="1.4"/>
<ellipse cx="1250.8" cy="829.6" rx="8.5" ry="19.0" transform="rotate(22 1250.8 829.6)" class="w" stroke-width="1.8"/>
<path class="w" d="M1256 820 L1263 818 L1267 826 L1265 838 L1258 843 L1254 838Z M1256 820 L1259 830 L1265 838 M1259 830 L1254 838" stroke-width="1.5"/>
<circle cx="1169.5" cy="766" r="1.2" class="k"/>
</g>
<g id="leaders" class="ld">
<path d="M40 89L52 222"/>
<path d="M93 91L102 232"/>
<path d="M134 91L144 160"/>
<path d="M208 93L184 208"/>
<path d="M248 95L201 275"/>
<path d="M276 96L262 313"/>
<path d="M318 66L420 120"/>
<path d="M357 68L392 86"/>
<path d="M393 68L421 76"/>
<path d="M536 45L496 50"/>
<path d="M542 59L500 61"/>
<path d="M665 78L585 97"/>
<path d="M660 108L646 117"/>
<path d="M686 114L654 146"/>
<path d="M709 142L611 200"/>
<path d="M726 148L680 193"/>
<path d="M755 154L720 192"/>
<path d="M810 165L742 262"/>
<path d="M838 173L795 253"/>
<path d="M862 178L808 290"/>
<path d="M900 188L861 275"/>
<path d="M950 201L921 293"/>
<path d="M985 211L949 338"/>
<path d="M1025 222L974 314"/>
<path d="M1057 232L980 355"/>
<path d="M1089 240L1038 376"/>
<path d="M1124 248L1073 377"/>
<path d="M1150 255L1095 393"/>
<path d="M332 230L381 197"/>
<path d="M334 274L378 290"/>
<path d="M645 279L627 284"/>
<path d="M668 372L548 366"/>
<path d="M668 399L591 407"/>
<path d="M668 423L609 431"/>
<path d="M668 457L607 468"/>
<path d="M840 466L800 548"/>
<path d="M877 480L829 538"/>
<path d="M910 490L826 552"/>
<path d="M931 502L872 578"/>
<path d="M955 512L921 553"/>
<path d="M984 521L924 575"/>
<path d="M1009 532L935 603"/>
<path d="M1032 540L967 611"/>
<path d="M1057 551L976 619"/>
<path d="M1082 559L988 629"/>
<path d="M1107 570L1014 635"/>
<path d="M1143 581L1138 614"/>
<path d="M1248 622L1170 765"/>
<path d="M1205 915L1222 833"/>
<path d="M975 858L1030 747"/>
<path d="M880 808L962 773"/>
<path d="M795 643L817 640"/>
<path d="M788 611L835 595"/>
<path d="M917 448L927 408"/>
<path d="M220 405L255 401"/>
<path d="M220 450L261 452"/>
<path d="M220 480L283 514"/>
<path d="M145 580L127 607"/>
<path d="M80 698L126 652"/>
<path d="M131 735L170 708"/>
<path d="M165 762L207 728"/>
<path d="M197 786L240 751"/>
<path d="M227 806L259 792"/>
<path d="M262 833L305 788"/>
<path d="M292 853L337 806"/>
</g>
<g id="labels">
<text class="l" x="40" y="87.5">I</text>
<text class="l" x="93" y="89.5">2</text>
<text class="l" x="134" y="89.5">3</text>
<text class="l" x="208" y="91.5">4</text>
<text class="l" x="249" y="92.5">5</text>
<text class="l" x="277" y="93.5">6</text>
<text class="l" x="312" y="65.5">9</text>
<text class="l" x="350" y="66.5" letter-spacing="-0.2">I0</text>
<text class="l" x="386" y="67.5" letter-spacing="-0.2">II</text>
<text class="l" x="546" y="48.5" letter-spacing="-0.2">I2</text>
<text class="l" x="552" y="63.5" letter-spacing="-0.2">I3</text>
<text class="l" x="676" y="78.5" letter-spacing="-0.2">I4</text>
<text class="l" x="671" y="108.5" letter-spacing="-0.2">I5</text>
<text class="l" x="697" y="113.5" letter-spacing="-0.2">I6</text>
<text class="l" x="717" y="140.5" letter-spacing="-0.2">I7</text>
<text class="l" x="735" y="145.5" letter-spacing="-0.2">I8</text>
<text class="l" x="762" y="152.5" letter-spacing="-0.2">I9</text>
<text class="l" x="817" y="163.5" letter-spacing="-0.2">20</text>
<text class="l" x="846" y="170.5" letter-spacing="-0.2">2I</text>
<text class="l" x="869" y="176.5" letter-spacing="-0.2">22</text>
<text class="l" x="907" y="185.5" letter-spacing="-0.2">23</text>
<text class="l" x="956" y="199.5" letter-spacing="-0.2">24</text>
<text class="l" x="990" y="208.5" letter-spacing="-0.2">25</text>
<text class="l" x="1031" y="219.5" letter-spacing="-0.2">26</text>
<text class="l" x="1066" y="227.5" letter-spacing="-0.2">27</text>
<text class="l" x="1095" y="235.5" letter-spacing="-0.2">28</text>
<text class="l" x="1131" y="245.5" letter-spacing="-0.2">29</text>
<text class="l" x="1157" y="252.5" letter-spacing="-0.2">30</text>
<text class="l" x="324" y="242.5">8</text>
<text class="l" x="328" y="277.5">7</text>
<text class="l" x="657" y="280.5" letter-spacing="-0.2">32</text>
<text class="l" x="680" y="379.5" letter-spacing="-0.2">33</text>
<text class="l" x="680" y="404.5" letter-spacing="-0.2">34</text>
<text class="l" x="680" y="428.5" letter-spacing="-0.2">35</text>
<text class="l" x="679" y="462.5" letter-spacing="-0.2">36</text>
<text class="l" x="842" y="463.5" letter-spacing="-0.2">37</text>
<text class="l" x="884" y="479.5" letter-spacing="-0.2">38</text>
<text class="l" x="917" y="490.5" letter-spacing="-0.2">39</text>
<text class="l" x="937" y="499.5" letter-spacing="-0.2">40</text>
<text class="l" x="960" y="510.5" letter-spacing="-0.2">4I</text>
<text class="l" x="990" y="519.5" letter-spacing="-0.2">42</text>
<text class="l" x="1015" y="530.5" letter-spacing="-0.2">43</text>
<text class="l" x="1037" y="538.5" letter-spacing="-0.2">44</text>
<text class="l" x="1063" y="549.5" letter-spacing="-0.2">45</text>
<text class="l" x="1088" y="557.5" letter-spacing="-0.2">46</text>
<text class="l" x="1110" y="568.5">I</text>
<text class="l" x="1147" y="578.5" letter-spacing="-0.2">47</text>
<text class="l" x="1252" y="619.5" letter-spacing="-0.2">48</text>
<text class="l" x="1199" y="929.5" letter-spacing="-0.2">49</text>
<text class="l" x="968" y="872.5" letter-spacing="-0.2">50</text>
<text class="l" x="871" y="821.5" letter-spacing="-0.2">5I</text>
<text class="l" x="783" y="650.5" letter-spacing="-0.2">52</text>
<text class="l" x="774" y="622.5" letter-spacing="-0.2">53</text>
<text class="l" x="916" y="461.5" letter-spacing="-0.2">3I</text>
<text class="l" x="207" y="410.5" letter-spacing="-0.2">64</text>
<text class="l" x="206" y="456.5" letter-spacing="-0.2">63</text>
<text class="l" x="207" y="483.5" letter-spacing="-0.2">62</text>
<text class="l" x="152" y="576.5" letter-spacing="-0.2">6I</text>
<text class="l" x="69" y="713.5" letter-spacing="-0.2">60</text>
<text class="l" x="120" y="749.5" letter-spacing="-0.2">59</text>
<text class="l" x="152" y="772.5" letter-spacing="-0.2">58</text>
<text class="l" x="183" y="800.5" letter-spacing="-0.2">57</text>
<text class="l" x="215" y="819.5" letter-spacing="-0.2">56</text>
<text class="l" x="251" y="846.5" letter-spacing="-0.2">55</text>
<text class="l" x="282" y="867.5" letter-spacing="-0.2">54</text>
</g>
<g id="watermark" style="mix-blend-mode:multiply" fill="#cdcdcd" stroke="none">
 <!-- P -->
 <path fill-rule="evenodd" d="M326 426 L386 426 C406 426 415 440 415 454 C415 470 405 483 386 483 L357 483 L357 513 L368 513 L368 526 L326 526 L326 513 L335 513 L335 439 L326 439Z M357 439 L379 439 C389 439 393 447 393 454 C393 462 389 470 379 470 L357 470Z"/>
 <!-- a -->
 <g fill="none" stroke="#cdcdcd" stroke-linecap="butt">
  <path d="M433 480 C431 462 446 464 459 464 C478 464 482 472 482 486 L482 520" stroke-width="19"/>
  <ellipse cx="450" cy="505" rx="19" ry="12.500" stroke-width="17"/>
 </g>
 <path d="M472 513 L502 513 L502 526 L472 526Z M424 470 a10 10 0 1 0 20 0 a10 10 0 1 0 -20 0"/>
 <!-- r -->
 <path d="M503 456 L531 456 L531 513 L542 513 L542 526 L503 526 L503 513 L512 513 L512 469 L503 469Z"/>
 <path fill="none" stroke="#cdcdcd" stroke-width="15" d="M531 482 C533 468 542 462 552 465"/>
 <circle cx="549" cy="470" r="10.500"/>
 <!-- t -->
 <path d="M565 440 L584 432 L584 456 L598 456 L598 469 L584 469 L584 505 C584 512 590 513 594 510 L600 520 C590 529 565 530 565 508 L565 469 L556 469 L556 456 L565 456Z"/>
 <!-- s -->
 <path fill="none" stroke="#cdcdcd" stroke-width="16" d="M644 474 C640 462 612 460 611 476 C610 492 644 486 643 506 C642 522 612 522 607 506"/>
 <path d="M636 457 L651 457 L651 480 L640 480Z M601 500 L612 500 L616 526 L601 526Z"/>
 <!-- T -->
 <path d="M652 426 L739 426 L739 453 L728 453 L728 439 L706 439 L706 513 L716 513 L716 526 L674 526 L674 513 L684 513 L684 439 L663 439 L663 453 L652 453Z"/>
 <!-- r -->
 <path d="M736 456 L765 456 L765 513 L776 513 L776 526 L736 526 L736 513 L745 513 L745 469 L736 469Z"/>
 <path fill="none" stroke="#cdcdcd" stroke-width="15" d="M765 482 C767 468 776 462 786 465"/>
 <circle cx="784" cy="470" r="10.500"/>
 <!-- e e -->
 <g fill="none" stroke="#cdcdcd" stroke-width="17">
  <path d="M806 491 L849 491 C849 458 805 456 805 491 C805 524 842 524 850 506"/>
  <path d="M870 491 L913 491 C913 458 869 456 869 491 C869 524 906 524 914 506"/>
 </g>
 <text x="921" y="444" font-size="21" fill="#cdcdcd" font-family="Liberation Sans, sans-serif" textLength="32" lengthAdjust="spacingAndGlyphs">TM</text>
</g>

</svg>
</body></html>
